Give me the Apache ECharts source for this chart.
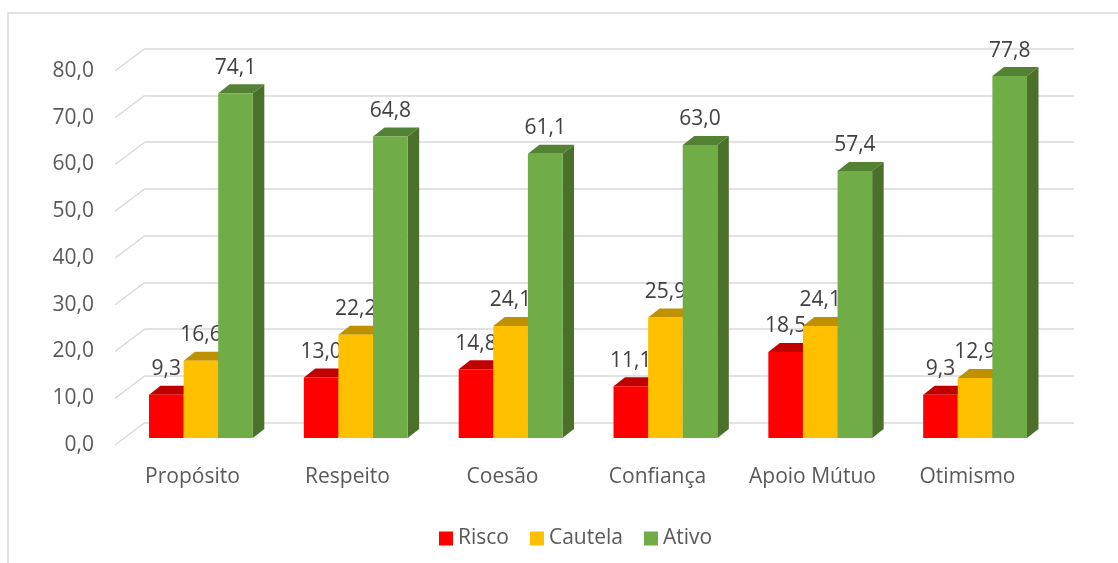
<!DOCTYPE html>
<html>
<head>
<meta charset="utf-8">
<script src="https://cdn.jsdelivr.net/npm/echarts@6/dist/echarts.min.js"></script>
<style>html,body{margin:0;padding:0;background:#fff;}#c{width:1118px;height:563px;}</style>
</head>
<body>
<div id="c"></div>
<script>
const categories = ['Propósito', 'Respeito', 'Coesão', 'Confiança', 'Apoio Mútuo', 'Otimismo'];
const seriesNames = ['Risco', 'Cautela', 'Ativo'];
const risco = [9.3, 13.0, 14.8, 11.1, 18.5, 9.3];
const cautela = [16.6, 22.2, 24.1, 25.9, 24.1, 12.9];
const ativo = [74.1, 64.8, 61.1, 63.0, 57.4, 77.8];
const yTicks = [0, 10, 20, 30, 40, 50, 60, 70, 80];

const FONT = '"Open Sans", sans-serif';
const TXT = '#595959';
const LBL = '#404040';
const fmt = v => v.toFixed(1).replace('.', ',');

const colors = [
  {front: '#FF0000', top: '#C00000', side: '#A00000'},
  {front: '#FFC000', top: '#BF9000', side: '#A07800'},
  {front: '#70AD47', top: '#548235', side: '#4A7029'}
];
const DX = 11.5, DY = 9, SHIFT_X = -21.5, SHIFT_Y = 15.5;

function barRender(k) {
  return function (params, api) {
    const i = api.value(0), v = api.value(1);
    const base = api.coord([i, 0]);
    const p = api.coord([i, v]);
    const catW = api.size([1, 0])[0];
    const bw = catW * 0.2235;
    const left = base[0] + SHIFT_X - 1.5 * bw + k * bw;
    const bottom = base[1] + SHIFT_Y;
    const h = (base[1] - p[1]) * 0.995;
    const top = bottom - h;
    const c = colors[k];
    return {
      type: 'group',
      children: [
        {type: 'polygon', shape: {points: [[left + bw, top], [left + bw + DX, top - DY], [left + bw + DX, bottom - DY], [left + bw, bottom]]}, style: {fill: c.side}},
        {type: 'polygon', shape: {points: [[left, top], [left + DX, top - DY], [left + bw + DX, top - DY], [left + bw, top]]}, style: {fill: c.top}},
        {type: 'rect', shape: {x: left, y: top, width: bw, height: h}, style: {fill: c.front}},
        {type: 'text', z2: 100, style: {text: fmt(v), x: left + bw / 2, y: top - 25.5, align: 'center', verticalAlign: 'middle', fontSize: 21, fontFamily: FONT, fill: LBL}}
      ]
    };
  };
}

function diagRender(params, api) {
  const t = api.value(1);
  const p = api.coord([0, t]);
  const catW = api.size([1, 0])[0];
  const x0 = p[0] - catW / 2;
  return {type: 'line', shape: {x1: x0, y1: p[1], x2: x0 - 30, y2: p[1] + 22.5}, style: {stroke: '#D9D9D9', lineWidth: 1.5}};
}

const allValues = [risco, cautela, ativo];
const series = seriesNames.map((name, k) => ({
  name: name,
  type: 'custom',
  xAxisIndex: 0, yAxisIndex: 0,
  clip: false,
  itemStyle: {color: colors[k].front},
  renderItem: barRender(k),
  data: allValues[k].map((v, i) => [i, v]),
  z: 5 + k
}));
series.push({
  type: 'custom',
  xAxisIndex: 0, yAxisIndex: 0,
  clip: false,
  silent: true,
  renderItem: diagRender,
  data: yTicks.map(t => [0, t]),
  z: 1
});

const chart = echarts.init(document.getElementById('c'), null, {renderer: 'canvas'});
chart.setOption({
  animation: false,
  backgroundColor: '#fff',
  graphic: [{type: 'rect', shape: {x: 8, y: 13, width: 1300, height: 800}, style: {fill: 'none', stroke: '#D9D9D9', lineWidth: 1.5}, silent: true}],
  legend: {
    data: seriesNames,
    left: 434, top: 523,
    icon: 'rect', itemWidth: 14, itemHeight: 14, itemGap: 21,
    textStyle: {fontSize: 21, fontFamily: FONT, color: TXT}
  },
  grid: [
    {left: 145, right: 44, top: 48.5, bottom: 140.5},
    {left: 115, right: 73, top: 71, bottom: 118}
  ],
  xAxis: [
    {type: 'category', gridIndex: 0, data: categories, axisLine: {show: false}, axisTick: {show: false}, axisLabel: {show: false}},
    {type: 'category', gridIndex: 1, data: categories, axisLine: {show: false}, axisTick: {show: false},
     axisLabel: {interval: 0, margin: 22, fontSize: 21, fontFamily: FONT, color: TXT}}
  ],
  yAxis: [
    {type: 'value', gridIndex: 0, min: 0, max: 80, interval: 10, axisLine: {show: false}, axisTick: {show: false}, axisLabel: {show: false},
     splitLine: {show: true, lineStyle: {color: '#D9D9D9', width: 1.5}}},
    {type: 'value', gridIndex: 1, min: 0, max: 80, interval: 10, axisLine: {show: false}, axisTick: {show: false}, splitLine: {show: false},
     axisLabel: {margin: 21, fontSize: 21, fontFamily: FONT, color: TXT, formatter: v => fmt(v)}}
  ],
  series: series
});
</script>
</body>
</html>
